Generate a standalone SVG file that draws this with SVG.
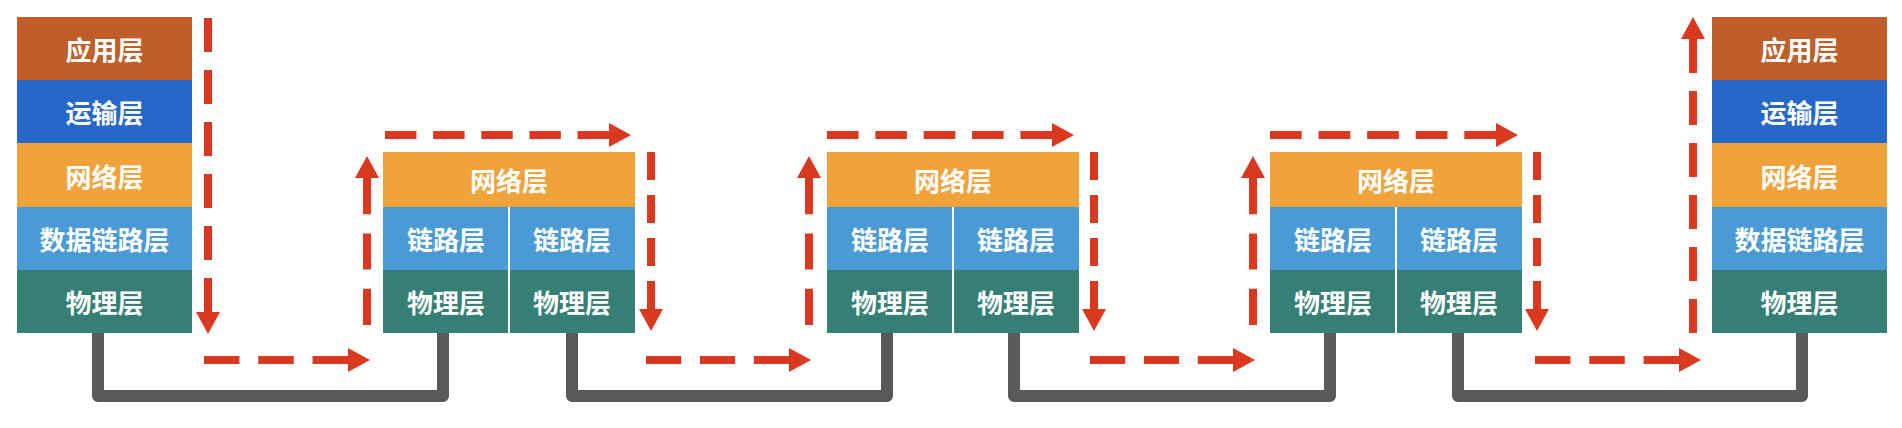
<svg xmlns="http://www.w3.org/2000/svg" width="1902" height="428" viewBox="0 0 1902 428">
<style>
.app{fill:#BF5E29}.tra{fill:#2767C7}.net{fill:#F0A23B}.lnk{fill:#4A9BD5}.phy{fill:#367F74}
.t{fill:#FFFFFF;font-family:"Noto Sans CJK SC","Noto Sans",sans-serif;font-weight:bold;font-size:26px;text-anchor:middle;dominant-baseline:central}
.div{stroke:#FFFFFF;stroke-width:2}
.wire{fill:none;stroke:#595959;stroke-width:12;stroke-linejoin:round}
.flow{fill:none;stroke:#D9391F;stroke-width:8;stroke-dasharray:32 17;marker-end:url(#ah)}
</style>
<defs>
<marker id="ah" markerUnits="userSpaceOnUse" markerWidth="22" markerHeight="24" viewBox="0 0 22 24" refX="0" refY="12" orient="auto">
<path d="M0,0 L22,12 L0,24 Z" fill="#D9391F"/>
</marker>
</defs>
<g id="wires">
<path class="wire" d="M98,333 V396 H443 V333"/>
<path class="wire" d="M572,333 V396 H887 V333"/>
<path class="wire" d="M1014,333 V396 H1330 V333"/>
<path class="wire" d="M1458,333 V396 H1802 V333"/>
</g>
<g id="host-a">
<rect class="app" x="17" y="17" width="175" height="63"/>
<rect class="tra" x="17" y="80" width="175" height="63"/>
<rect class="net" x="17" y="143" width="175" height="64"/>
<rect class="lnk" x="17" y="207" width="175" height="63"/>
<rect class="phy" x="17" y="270" width="175" height="63"/>
<text class="t" x="104.5" y="48.5">应用层</text>
<text class="t" x="104.5" y="111.5">运输层</text>
<text class="t" x="104.5" y="175">网络层</text>
<text class="t" x="104.5" y="238.5">数据链路层</text>
<text class="t" x="104.5" y="301.5">物理层</text>
</g>
<g id="router-1">
<rect class="net" x="383" y="152" width="252" height="55"/>
<rect class="lnk" x="383" y="207" width="252" height="63"/>
<rect class="phy" x="383" y="270" width="252" height="63"/>
<line class="div" x1="509" y1="207" x2="509" y2="333"/>
<text class="t" x="509" y="179.5">网络层</text>
<text class="t" x="446" y="238.5">链路层</text>
<text class="t" x="572" y="238.5">链路层</text>
<text class="t" x="446" y="301.5">物理层</text>
<text class="t" x="572" y="301.5">物理层</text>
</g>
<g id="router-2">
<rect class="net" x="827" y="152" width="252" height="55"/>
<rect class="lnk" x="827" y="207" width="252" height="63"/>
<rect class="phy" x="827" y="270" width="252" height="63"/>
<line class="div" x1="953" y1="207" x2="953" y2="333"/>
<text class="t" x="953" y="179.5">网络层</text>
<text class="t" x="890" y="238.5">链路层</text>
<text class="t" x="1016" y="238.5">链路层</text>
<text class="t" x="890" y="301.5">物理层</text>
<text class="t" x="1016" y="301.5">物理层</text>
</g>
<g id="router-3">
<rect class="net" x="1270" y="152" width="252" height="55"/>
<rect class="lnk" x="1270" y="207" width="252" height="63"/>
<rect class="phy" x="1270" y="270" width="252" height="63"/>
<line class="div" x1="1396" y1="207" x2="1396" y2="333"/>
<text class="t" x="1396" y="179.5">网络层</text>
<text class="t" x="1333" y="238.5">链路层</text>
<text class="t" x="1459" y="238.5">链路层</text>
<text class="t" x="1333" y="301.5">物理层</text>
<text class="t" x="1459" y="301.5">物理层</text>
</g>
<g id="host-b">
<rect class="app" x="1712" y="17" width="175" height="63"/>
<rect class="tra" x="1712" y="80" width="175" height="63"/>
<rect class="net" x="1712" y="143" width="175" height="64"/>
<rect class="lnk" x="1712" y="207" width="175" height="63"/>
<rect class="phy" x="1712" y="270" width="175" height="63"/>
<text class="t" x="1799.5" y="48.5">应用层</text>
<text class="t" x="1799.5" y="111.5">运输层</text>
<text class="t" x="1799.5" y="175">网络层</text>
<text class="t" x="1799.5" y="238.5">数据链路层</text>
<text class="t" x="1799.5" y="301.5">物理层</text>
</g>
<g id="flow">
<path class="flow" pathLength="277" d="M208,18 L208,312"/>
<path class="flow" pathLength="130" d="M204,360 L348,360"/>
<path class="flow" pathLength="130" d="M367,325 L367,178"/>
<path class="flow" pathLength="228" d="M385,135 L609,135"/>
<path class="flow" pathLength="179" d="M651,152 L651,309"/>
<path class="flow" pathLength="130" d="M646,360 L789,360"/>
<path class="flow" pathLength="130" d="M809,325 L809,178"/>
<path class="flow" pathLength="228" d="M827,135 L1052,135"/>
<path class="flow" pathLength="179" d="M1094,152 L1094,309"/>
<path class="flow" pathLength="130" d="M1090,360 L1233,360"/>
<path class="flow" pathLength="130" d="M1253,325 L1253,178"/>
<path class="flow" pathLength="228" d="M1270,135 L1496,135"/>
<path class="flow" pathLength="179" d="M1537,152 L1537,309"/>
<path class="flow" pathLength="130" d="M1535,360 L1679,360"/>
<path class="flow" pathLength="277" d="M1693,333 L1693,39"/>
</g>
</svg>
